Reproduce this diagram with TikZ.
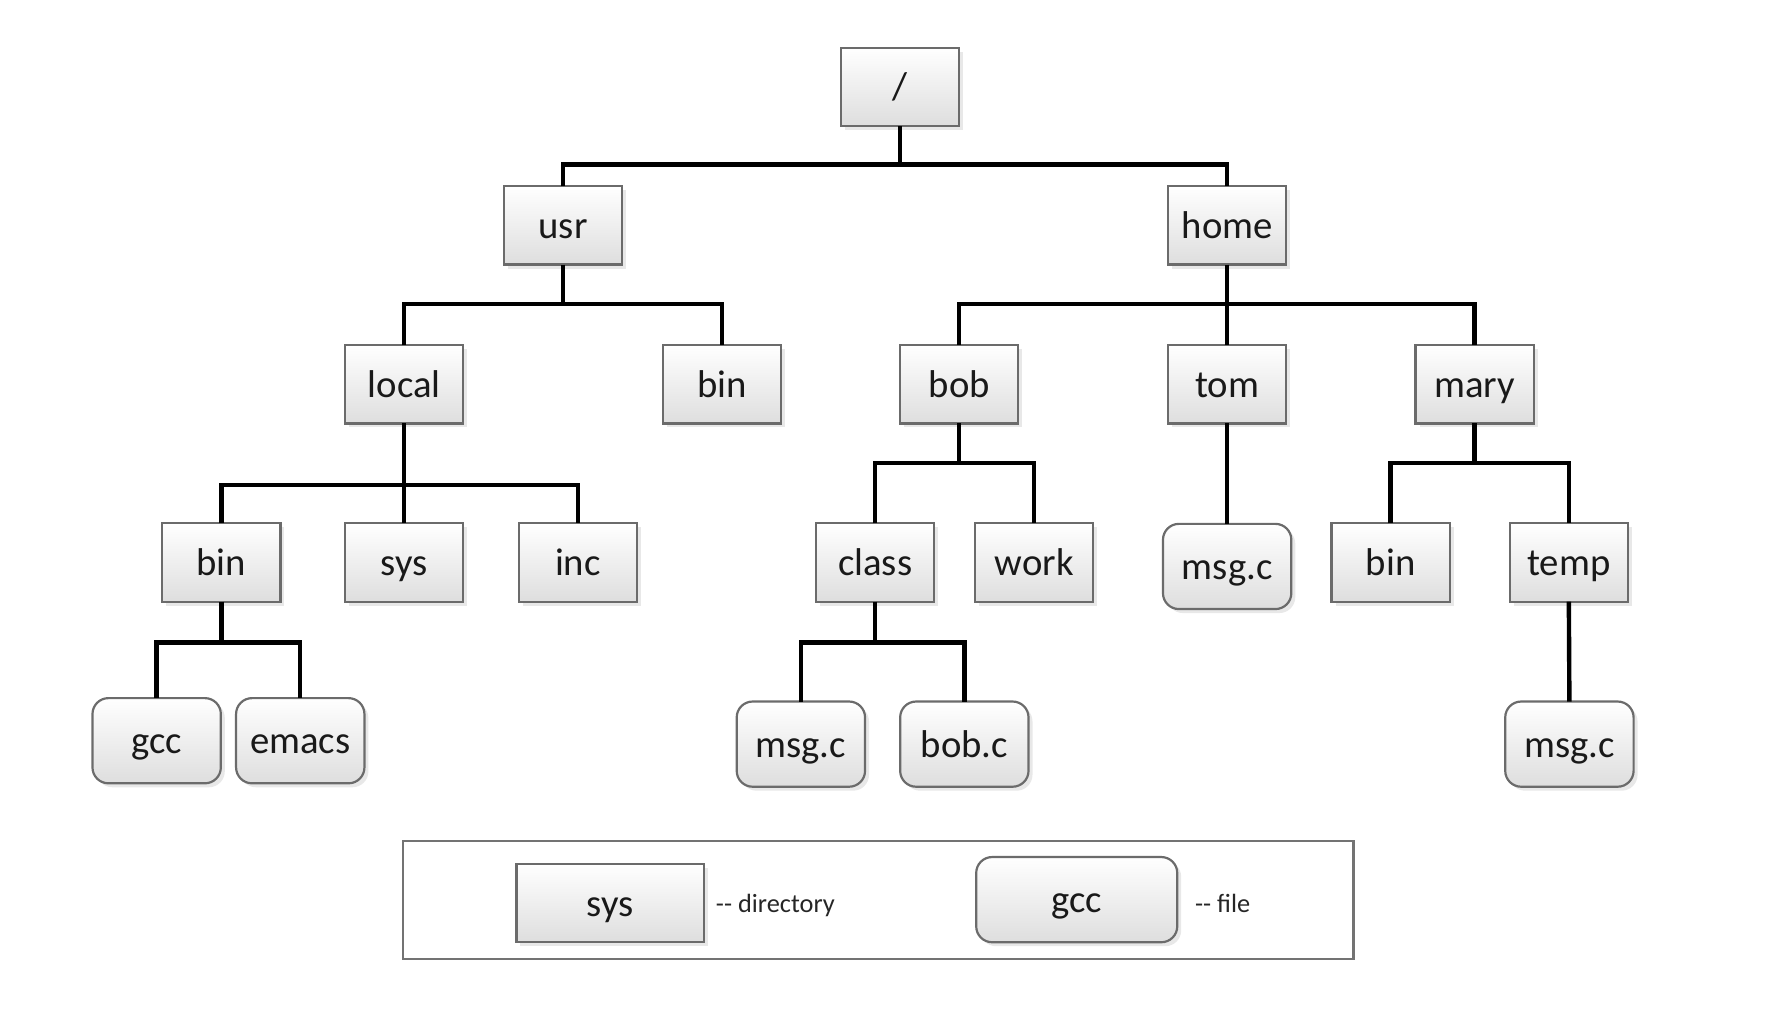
\documentclass[tikz,border=0pt]{standalone}
\usepackage{fontspec}
\setmainfont{Carlito}
\usetikzlibrary{shadows}
\begin{document}
\begin{tikzpicture}[x=0.01cm,y=-0.01cm,
  base/.style={draw=black!58, line width=0.55pt, top color=white, bottom color=black!13,
    inner sep=0pt, outer sep=0pt, font=\fontsize{9.7pt}{11pt}\selectfont, text=black!90,
    text height=0.85em, text depth=0.2em,
    drop shadow={opacity=0.18, shadow xshift=0.035cm, shadow yshift=-0.035cm}},
  dirbox/.style={base, minimum width=1.04cm, minimum height=0.69cm},
  filebox/.style={base, rounded corners=0.14cm, minimum width=1.13cm, minimum height=0.75cm},
  link/.style={line width=1.1pt, black},
  legtext/.style={font=\fontsize{6.6pt}{8pt}\selectfont, text=black!85, anchor=west, inner sep=0pt}
]
\useasboundingbox (0,0) rectangle (1568,912.6);
% level 0
\node[dirbox] (root) at (793,76.5) {/};
% level 1
\node[dirbox] (usr) at (496,198.5) {usr};
\node[dirbox] (home) at (1081,198.5) {home};
% level 2
\node[dirbox] (local) at (356,338.5) {local};
\node[dirbox] (ubin) at (636,338.5) {bin};
\node[dirbox] (bob) at (845,338.5) {bob};
\node[dirbox] (tom) at (1081,338.5) {tom};
\node[dirbox] (mary) at (1299,338.5) {mary};
% level 3
\node[dirbox] (lbin) at (195,495.5) {bin};
\node[dirbox] (sys) at (356,495.5) {sys};
\node[dirbox] (inc) at (509,495.5) {inc};
\node[dirbox] (class) at (771,495.5) {class};
\node[dirbox] (work) at (911,495.5) {work};
\node[filebox] (tmsg) at (1081,499) {msg.c};
\node[dirbox] (mbin) at (1225,495.5) {bin};
\node[dirbox] (temp) at (1382,495.5) {temp};
% level 4
\node[filebox] (gcc) at (138,652.5) {gcc};
\node[filebox] (emacs) at (264.5,652.5) {emacs};
\node[filebox] (cmsg) at (705.5,655.5) {msg.c};
\node[filebox] (bobc) at (849.5,655.5) {bob.c};
\node[filebox] (tmpmsg) at (1382.5,655.5) {msg.c};
% junctions
\coordinate (j0) at (793,145);
\coordinate (j1) at (496,268);
\coordinate (j2) at (1081,268);
\coordinate (j3) at (356,427);
\coordinate (j4) at (845,408);
\coordinate (j5) at (1299,408);
\coordinate (j6) at (195,566);
\coordinate (j7) at (771,566);
% connectors
\draw[link] (root.south) -- (j0);
\draw[link] (usr.north) |- (j0) -| (home.north);
\draw[link] (usr.south) -- (j1);
\draw[link] (local.north) |- (j1) -| (ubin.north);
\draw[link] (home.south) -- (tom.north);
\draw[link] (bob.north) |- (j2) -| (mary.north);
\draw[link] (local.south) -- (sys.north);
\draw[link] (lbin.north) |- (j3) -| (inc.north);
\draw[link] (bob.south) -- (j4);
\draw[link] (class.north) |- (j4) -| (work.north);
\draw[link] (tom.south) -- (tmsg.north);
\draw[link] (mary.south) -- (j5);
\draw[link] (mbin.north) |- (j5) -| (temp.north);
\draw[link] (lbin.south) -- (j6);
\draw[link] (gcc.north) |- (j6) -| (emacs.north);
\draw[link] (class.south) -- (j7);
\draw[link] (cmsg.north) |- (j7) -| (bobc.north);
\draw[link] (temp.south) -- (tmpmsg.north);
% legend
\node[draw=black!55, line width=0.6pt, minimum width=8.37cm, minimum height=1.04cm, inner sep=0pt] (legend) at (773.5,793) {};
\node[dirbox, minimum width=1.65cm] (lsys) at (537.5,795.5) {sys};
\node[filebox, minimum width=1.77cm] (lgcc) at (948.5,792.5) {gcc};
\node[legtext] (ldir) at (630,798) {-{}- directory};
\node[legtext] (lfile) at (1052,796) {-{}- file};
\end{tikzpicture}
\end{document}
